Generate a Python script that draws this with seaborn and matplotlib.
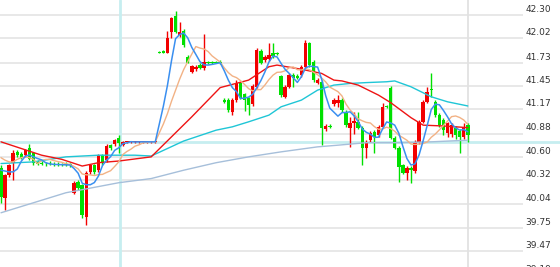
import numpy as np
import pandas as pd
import matplotlib
matplotlib.use("Agg")
import matplotlib.pyplot as plt
import matplotlib.transforms as mtransforms
import seaborn as sns

# ---------------- data ----------------
opens = [
    40.47, 40.11, 40.38, 40.53, 40.66, 40.64, 40.62, 40.71, 40.65, 40.54,
    40.53, 40.52, 40.53, 40.52, 40.52, 40.52, 40.52, 40.51, 40.17, 40.30,
    40.26, 39.88, 40.42, 40.50, 40.44, 40.62, 40.56, 40.74, 40.75, 40.83,
    40.74, 40.78, 40.78, 40.78, 40.78, 40.78, 40.78, 40.78, 40.78, 41.86,
    41.87, 41.85, 42.10, 42.29, 42.06, 42.11, 41.80, 41.62, 41.65, 41.70,
    41.66, 41.74, 41.74, 41.74, 41.74, 41.28, 41.28, 41.14, 41.28, 41.49,
    41.35, 41.30, 41.23, 41.44, 41.87, 41.76, 41.77, 41.85, 41.84, 41.57,
    41.32, 41.44, 41.58, 41.57, 41.58, 41.68, 41.96, 41.74, 41.49, 41.50,
    40.93, 40.97, 41.23, 41.24, 41.28, 41.14, 40.95, 41.00, 41.02, 40.95,
    40.71, 40.80, 40.90, 40.86, 40.96, 41.21, 41.43, 40.83, 40.71, 40.50,
    40.41, 40.47, 40.43, 40.78, 41.02, 41.26, 41.41, 41.26, 41.10, 41.04,
    40.89, 40.88, 40.95, 40.91, 40.84, 40.98]
highs = [
    40.50, 40.40, 40.52, 40.68, 40.68, 40.66, 40.70, 40.76, 40.66, 40.56,
    40.55, 40.54, 40.55, 40.54, 40.54, 40.53, 40.54, 40.53, 40.31, 40.32,
    40.28, 40.43, 40.52, 40.52, 40.64, 40.64, 40.76, 40.76, 40.82, 40.86,
    40.79, 40.79, 40.79, 40.79, 40.79, 40.79, 40.79, 40.79, 40.79, 41.87,
    41.88, 42.11, 42.28, 42.35, 42.22, 42.13, 41.82, 41.70, 41.70, 41.72,
    42.07, 41.75, 41.75, 41.75, 41.76, 41.30, 41.30, 41.30, 41.52, 41.50,
    41.37, 41.32, 41.47, 41.90, 41.89, 41.82, 41.96, 41.96, 41.86, 41.58,
    41.46, 41.60, 41.60, 41.59, 41.70, 42.00, 41.98, 41.76, 41.54, 41.52,
    40.99, 40.99, 41.30, 41.34, 41.30, 41.16, 41.08, 41.14, 41.14, 40.97,
    40.80, 40.91, 40.92, 40.98, 41.24, 41.22, 41.45, 40.85, 40.73, 40.52,
    40.49, 40.49, 40.80, 41.04, 41.28, 41.44, 41.61, 41.28, 41.12, 41.06,
    41.02, 41.00, 40.97, 40.93, 41.00, 41.00]
lows = [
    40.05, 39.96, 40.36, 40.32, 40.60, 40.57, 40.60, 40.56, 40.50, 40.50,
    40.50, 40.49, 40.50, 40.49, 40.49, 40.49, 40.49, 40.48, 40.15, 40.20,
    39.87, 39.78, 40.40, 40.40, 40.42, 40.50, 40.54, 40.68, 40.73, 40.65,
    40.73, 40.77, 40.77, 40.77, 40.77, 40.77, 40.77, 40.77, 40.77, 41.84,
    41.84, 41.84, 42.02, 42.08, 42.04, 41.92, 41.72, 41.60, 41.63, 41.65,
    41.64, 41.71, 41.71, 41.72, 41.71, 41.24, 41.14, 41.10, 41.26, 41.29,
    41.15, 41.10, 41.21, 41.42, 41.71, 41.74, 41.75, 41.79, 41.82, 41.32,
    41.30, 41.42, 41.44, 41.53, 41.56, 41.66, 41.68, 41.50, 41.47, 40.74,
    40.91, 40.95, 41.21, 41.20, 41.14, 40.96, 40.72, 40.88, 40.93, 40.50,
    40.59, 40.78, 40.65, 40.84, 40.94, 41.19, 40.81, 40.69, 40.30, 40.39,
    40.32, 40.29, 40.41, 40.76, 41.00, 41.24, 41.32, 41.08, 40.96, 40.86,
    40.84, 40.84, 40.82, 40.65, 40.82, 40.78]
closes = [
    40.12, 40.38, 40.50, 40.65, 40.62, 40.59, 40.68, 40.58, 40.53, 40.52,
    40.51, 40.51, 40.51, 40.50, 40.51, 40.50, 40.50, 40.50, 40.29, 40.23,
    39.90, 40.41, 40.50, 40.42, 40.62, 40.53, 40.73, 40.71, 40.80, 40.77,
    40.78, 40.78, 40.78, 40.78, 40.78, 40.78, 40.78, 40.78, 40.78, 41.85,
    41.85, 42.02, 42.26, 42.10, 42.10, 41.94, 41.73, 41.69, 41.68, 41.67,
    41.74, 41.72, 41.73, 41.73, 41.72, 41.26, 41.16, 41.28, 41.49, 41.31,
    41.28, 41.22, 41.45, 41.88, 41.73, 41.80, 41.82, 41.81, 41.83, 41.34,
    41.44, 41.58, 41.55, 41.55, 41.68, 41.96, 41.70, 41.52, 41.52, 40.95,
    40.97, 40.96, 41.28, 41.28, 41.16, 40.98, 41.00, 41.03, 40.95, 40.71,
    40.78, 40.89, 40.84, 40.96, 41.20, 41.20, 40.83, 40.71, 40.48, 40.41,
    40.47, 40.44, 40.78, 41.02, 41.26, 41.38, 41.40, 41.10, 40.98, 40.92,
    41.00, 40.98, 40.86, 40.84, 40.96, 40.86]

# moving-average values at the left edge (history not shown in the chart)
ma5_head = [40.44, 40.43, 40.42, 40.42]
ma10_head = [40.59, 40.56, 40.54, 40.54, 40.57, 40.59, 40.60, 40.59, 40.57]

# longer moving averages at candle indices
ma20_idx = [0, 5, 10, 15, 20, 24, 29, 37, 47, 54, 61, 66, 68, 74, 79, 82,
            84, 88, 93, 96, 101, 104, 109, 115]
ma20_val = [40.78, 40.70, 40.62, 40.57, 40.49, 40.53, 40.55, 40.60, 41.08,
            41.43, 41.52, 41.68, 41.70, 41.65, 41.60, 41.52, 41.51, 41.46,
            41.34, 41.25, 41.07, 40.98, 40.97, 40.95]
ma60_idx = [0, 8, 16, 24, 33, 37, 45, 53, 57, 61, 66, 69, 74, 78, 82, 86,
            90, 95, 97, 101, 106, 110, 115]
ma60_val = [40.52, 40.54, 40.60, 40.62, 40.62, 40.61, 40.79, 40.92, 40.96,
            41.02, 41.10, 41.20, 41.28, 41.40, 41.46, 41.48, 41.49, 41.50,
            41.51, 41.44, 41.32, 41.26, 41.21]
ma120_idx = [0, 16, 29, 37, 45, 53, 61, 69, 78, 83, 90, 98, 106, 115]
ma120_val = [39.93, 40.17, 40.29, 40.34, 40.44, 40.53, 40.60, 40.66, 40.72,
             40.74, 40.77, 40.77, 40.78, 40.80]

y_ticks = [42.30, 42.02, 41.73, 41.45, 41.17, 40.88, 40.60, 40.32, 40.04,
           39.75, 39.47, 39.19]
y_labels = ["42.30", "42.02", "41.73", "41.45", "41.17", "40.88", "40.60",
            "40.32", "40.04", "39.75", "39.47", "39.19"]
cross_price = 40.78
cross_index = 29.3

# ---------------- build ----------------
sns.set_theme(style="white")
plt.rcParams["font.family"] = ["DejaVu Sans"]

df = pd.DataFrame({"o": opens, "h": highs, "l": lows, "c": closes})
df["i"] = np.arange(len(df))
ma5 = df["c"].rolling(5).mean().to_numpy()
ma5[:4] = ma5_head
ma10 = df["c"].rolling(10).mean().to_numpy()
ma10[:9] = ma10_head

W, H = 560, 267
fig = plt.figure(figsize=(W / 100, H / 100), dpi=100)
ax = fig.add_axes([0, 0, 523 / W, 1])
ax.set_xlim(-0.25, 128.6)
ax.set_ylim(39.28, 42.48)
for s in ax.spines.values():
    s.set_visible(False)
ax.set_xticks([])
ax.set_yticks([])
ax.grid(False)

for t in y_ticks:
    ax.axhline(t, color="#e6e6e6", lw=1.3, zorder=0)
ax.axvline(len(df) - 1, color="#e2e2e2", lw=1.3, zorder=0)

# crosshair
ax.axvline(cross_index, color="#c6eef0", lw=2.0, zorder=0.5)
ax.plot([0, W / 523], [cross_price, cross_price], transform=ax.get_yaxis_transform(),
        clip_on=False, color="#c6eef0", lw=2.0, zorder=0.5)

up = df["c"] >= df["o"]
colors = np.where(up, "#f20000", "#00e000")
ax.vlines(df["i"], df["l"], df["h"], colors=colors, lw=1.0, zorder=2)
bottoms = np.minimum(df["o"], df["c"])
heights = np.maximum(np.abs(df["c"] - df["o"]), 0.008)
ax.bar(df["i"], heights, bottom=bottoms, width=0.85, color=colors,
       linewidth=0, zorder=3)

sns.lineplot(x=ma120_idx, y=ma120_val, ax=ax, color="#a6bfda", lw=1.0, zorder=4)
sns.lineplot(x=ma60_idx, y=ma60_val, ax=ax, color="#1fc6d6", lw=1.0, zorder=4)
sns.lineplot(x=ma20_idx, y=ma20_val, ax=ax, color="#ee1414", lw=1.0, zorder=4)
sns.lineplot(x=df["i"], y=ma10, ax=ax, color="#f2b285", lw=1.0, zorder=4)
sns.lineplot(x=df["i"], y=ma5, ax=ax, color="#3a8ff0", lw=1.1, zorder=5)
ax.set_xlabel("")
ax.set_ylabel("")

trans = mtransforms.blended_transform_factory(ax.transAxes, ax.transData)
off = mtransforms.offset_copy(trans, fig=fig, x=0, y=3, units="dots")
for t, lab in zip(y_ticks, y_labels):
    ax.text(1.005, t, lab, transform=off, ha="left", va="baseline",
            fontsize=6.5, color="#333333", clip_on=False)

fig.savefig("out.png", dpi=100)
